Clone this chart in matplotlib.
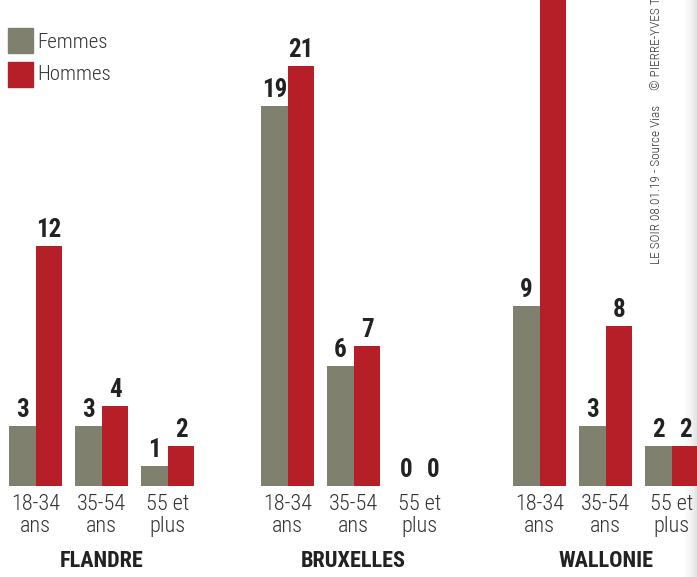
import matplotlib
matplotlib.use("Agg")
from matplotlib import pyplot as plt
import numpy as np

regions = ["FLANDRE", "BRUXELLES", "WALLONIE"]
ageGroups = ["18-34\nans", "35-54\nans", "55 et\nplus"]
femmes = [[3, 3, 1], [19, 6, 0], [9, 3, 2]]
hommes = [[12, 4, 2], [21, 7, 0], [27, 8, 2]]

colorFemmes = "#80806e"
colorHommes = "#b71f28"
narrow = ["Roboto Condensed", "DejaVu Sans"]

fig = plt.figure(figsize=(6.97, 5.77), dpi=100)

# light page shading on the right edge, behind everything
gax = fig.add_axes([684 / 697, 0, 13 / 697, 1])
grad = np.linspace(0, 1, 50).reshape(1, -1)
gax.imshow(grad, aspect="auto", cmap="Greys", vmin=0, vmax=5)
gax.axis("off")

ax = fig.add_axes([0, 0, 1, 1])
ax.patch.set_alpha(0)
# pixel-like x units, value units on y (20 px per unit)
ax.set_xlim(0, 697)
ax.set_ylim(-(577 - 486) / 20, 486 / 20)
ax.axis("off")

barWidth = 26.7
ageStep = 66
regionStep = 252
start = 9

for r, region in enumerate(regions):
    for a, age in enumerate(ageGroups):
        left = start + r * regionStep + a * ageStep
        xf = left + barWidth / 2
        xh = left + barWidth * 1.5
        ax.bar(xf, femmes[r][a], width=barWidth, color=colorFemmes)
        ax.bar(xh, hommes[r][a], width=barWidth, color=colorHommes)
        ax.text(xf, femmes[r][a] + 0.2, str(femmes[r][a]), ha="center", va="bottom",
                fontsize=18, fontweight="bold", family=narrow, color="#222222")
        ax.text(xh, hommes[r][a] + 0.2, str(hommes[r][a]), ha="center", va="bottom",
                fontsize=18, fontweight="bold", family=narrow, color="#222222")
        ax.text(left + barWidth, -0.4, age, ha="center", va="top", fontsize=16,
                fontweight="light", family=narrow, color="#333333", linespacing=1.05)
    center = start + r * regionStep + (2 * ageStep + 2 * barWidth) / 2
    ax.text(center, -3.75, region, ha="center", va="center", fontsize=16,
            fontweight="bold", family=narrow, color="#222222")

# legend
fig.patches.append(plt.Rectangle((8 / 697, 1 - 53 / 577), 25 / 697, 25 / 577,
                                 transform=fig.transFigure, color=colorFemmes))
fig.patches.append(plt.Rectangle((8 / 697, 1 - 87 / 577), 25 / 697, 25 / 577,
                                 transform=fig.transFigure, color=colorHommes))
fig.text(37 / 697, 1 - 42 / 577, "Femmes", fontsize=15, fontweight="light",
         family=narrow, color="#333333", va="center")
fig.text(37 / 697, 1 - 75 / 577, "Hommes", fontsize=15, fontweight="light",
         family=narrow, color="#333333", va="center")

# credits
fig.text(657 / 697, 1 - 264 / 577, "LE SOIR 08.01.19 - Source Vias", rotation=90,
         fontsize=9.5, fontweight="light", family=narrow, color="#333333",
         ha="center", va="bottom")
fig.text(657 / 697, 1 - 90 / 577, "© PIERRE-YVES THIENPONT", rotation=90,
         fontsize=9.5, fontweight="light", family=narrow, color="#333333",
         ha="center", va="bottom")

fig.savefig("out.png", dpi=100)
